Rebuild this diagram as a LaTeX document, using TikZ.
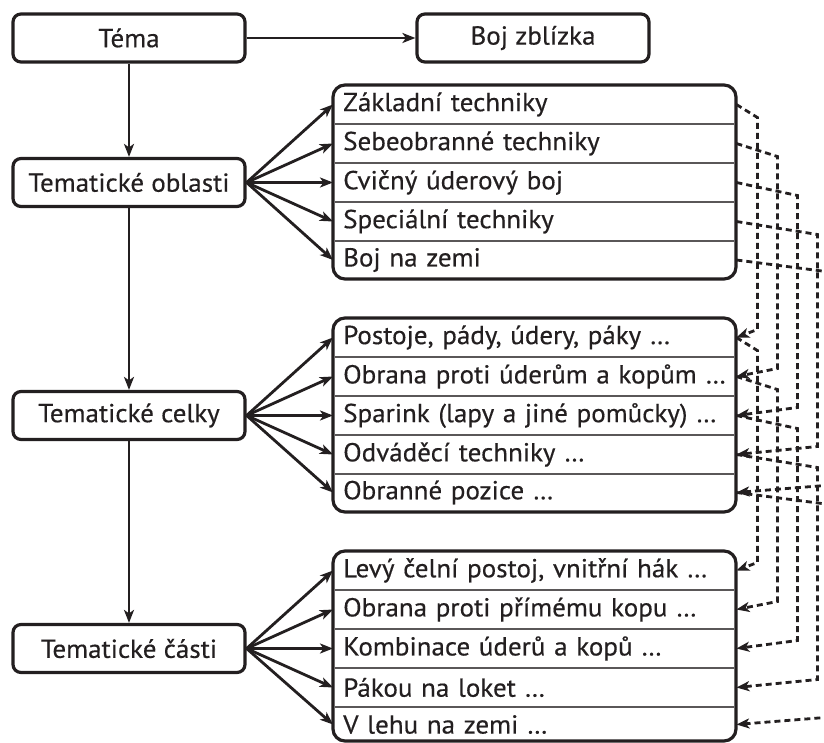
\documentclass[tikz,border=0pt]{standalone}
\usepackage{fontspec}
\setmainfont{PT Sans}[FakeStretch=1.04,FakeBold=0.4]
\usetikzlibrary{arrows.meta,calc}
\definecolor{ink}{RGB}{35,31,32}
\begin{document}
\begin{tikzpicture}[x=1pt,y=-1pt,
  font=\fontsize{26}{30}\selectfont,
  every node/.style={text=ink},
  box/.style={draw=ink, line width=3.2pt, rounded corners=8pt, minimum width=232pt, minimum height=48pt, inner sep=0pt},
  frame/.style={draw=ink, line width=3.2pt, rounded corners=12pt},
  row/.style={anchor=west, minimum height=39pt, text width=383pt, inner xsep=10pt, inner ysep=0pt, align=left},
  sep/.style={draw=ink!75, line width=2pt},
  conn/.style={draw=ink, line width=2.8pt, -{Stealth[length=13pt,width=10pt,inset=3.5pt]}},
  link/.style={draw=ink, line width=2.8pt, dash pattern=on 6pt off 4pt, -{Stealth[length=13pt,width=10pt,inset=3.5pt]}},
]
\useasboundingbox (0,0) rectangle (824,743);
\clip (0,0) rectangle (824,743);

% left column
\node[box] (tema) at (129,38) {Téma};
\node[box] (boj) at (533,38) {Boj zblízka};
\node[box] (obl) at (129,182.5) {Tematické oblasti};
\node[box] (cel) at (129,415.5) {Tematické celky};
\node[box] (cas) at (129,648.5) {Tematické části};

% group frames and separators
\draw[frame] (333,85) rectangle (736,279);
\draw[frame] (333,318) rectangle (736,512);
\draw[frame] (333,551) rectangle (736,741);
\foreach \t in {85,318,551}{
  \foreach \k in {1,2,3,4}{
    \draw[sep] (334.6,\t+39*\k) -- (734.4,\t+39*\k);
  }
}

% rows
\node[row] (g1r1) at (333,104.5) {Základní techniky};
\node[row] (g1r2) at (333,143.5) {Sebeobranné techniky};
\node[row] (g1r3) at (333,182.5) {Cvičný úderový boj};
\node[row] (g1r4) at (333,221.5) {Speciální techniky};
\node[row] (g1r5) at (333,260) {Boj na zemi};

\node[row] (g2r1) at (333,337.5) {Postoje, pády, údery, páky …};
\node[row] (g2r2) at (333,376.5) {Obrana proti úderům a kopům …};
\node[row] (g2r3) at (333,415.5) {Sparink (lapy a jiné pomůcky) …};
\node[row] (g2r4) at (333,454.5) {Odváděcí techniky …};
\node[row] (g2r5) at (333,492.5) {Obranné pozice …};

\node[row] (g3r1) at (333,570.5) {Levý čelní postoj, vnitřní hák …};
\node[row] (g3r2) at (333,609.5) {Obrana proti přímému kopu …};
\node[row] (g3r3) at (333,648.5) {Kombinace úderů a kopů …};
\node[row] (g3r4) at (333,687.5) {Pákou na loket …};
\node[row] (g3r5) at (333,724.5) {V lehu na zemi …};

% solid connectors
\draw[conn] (tema) -- (boj);
\draw[conn] (tema) -- (obl);
\draw[conn] (obl) -- (cel);
\draw[conn] (cel) -- (cas);
\foreach \i in {1,...,5}{
  \draw[conn] (obl.east) -- (g1r\i.west);
  \draw[conn] (cel.east) -- (g2r\i.west);
  \draw[conn] (cas.east) -- (g3r\i.west);
}

% dashed links
\foreach \i/\d in {1/21,2/41,3/61,4/81,5/101}{
  \draw[link] (g1r\i.east) -- ($(g1r\i.east)+(\d,13)$) -- ($(g2r\i.east)+(\d,-8)$) -- (g2r\i.east);
  \draw[link] (g2r\i.east) -- ($(g2r\i.east)+(\d,13)$) -- ($(g3r\i.east)+(\d,-8)$) -- (g3r\i.east);
}
\end{tikzpicture}
\end{document}
